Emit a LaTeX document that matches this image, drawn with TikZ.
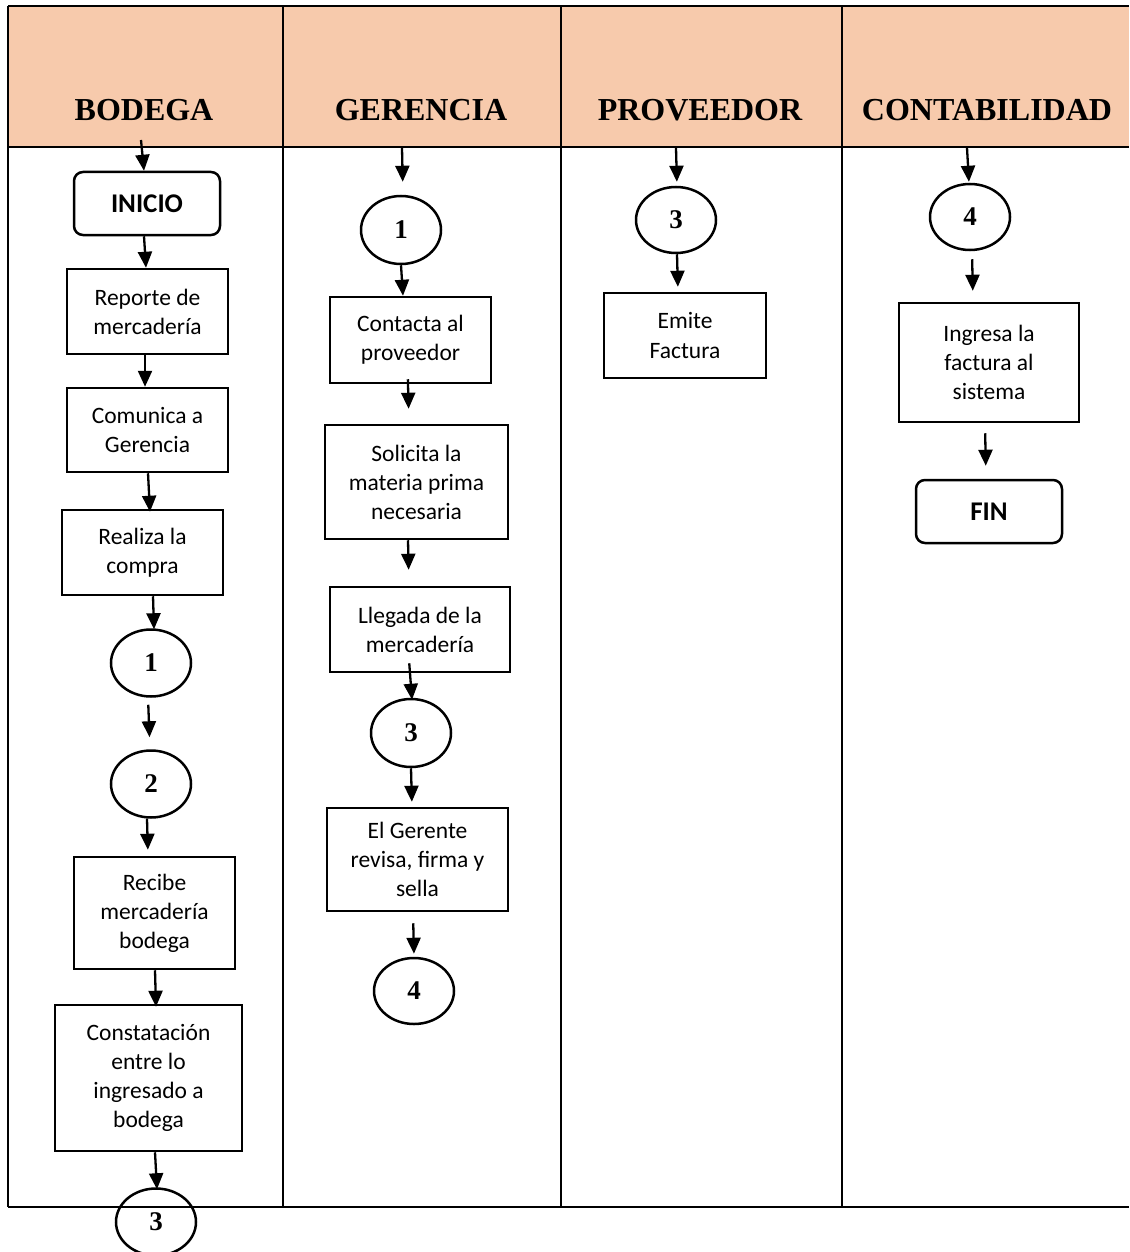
\documentclass[tikz,border=0pt]{standalone}
\usepackage{fontspec}
\setmainfont{Carlito}
\newfontfamily\hdfont{Liberation Serif}
\usetikzlibrary{arrows.meta,shapes.geometric}
\definecolor{peach}{RGB}{247,202,172}
\tikzset{
  box/.style={draw, line width=2.5pt, align=center, inner sep=2pt, font=\fontsize{23.5}{29}\selectfont},
  term/.style={draw, line width=2.5pt, rounded corners=9pt, font=\fontsize{27}{30}\selectfont\bfseries},
  conn/.style={draw, line width=2.5pt, ellipse, inner sep=0pt, font=\hdfont\fontsize{27}{30}\selectfont\bfseries},
  arr/.style={line width=2.3pt, -{Triangle[width=14pt,length=16pt]}},
  hd/.style={font=\hdfont\fontsize{32}{34}\selectfont\bfseries},
  grid/.style={line width=2.5pt}
}
\begin{document}
\begin{tikzpicture}[x=1pt,y=-1pt]
\useasboundingbox (0,0) rectangle (1129,1252);
\clip (0,0) rectangle (1129,1252);
% header band
\fill[peach] (8,6) rectangle (1129,147);
\draw[grid] (8,6) -- (1129,6);
\draw[grid] (8,147) -- (1129,147);
\draw[grid] (8,1207) -- (1129,1207);
\draw[grid] (8,6) -- (8,1207);
\draw[grid] (283,6) -- (283,1207);
\draw[grid] (561,6) -- (561,1207);
\draw[grid] (842,6) -- (842,1207);
\node[hd] (hb) at (144,110) {BODEGA};
\node[hd] (hg) at (421,110) {GERENCIA};
\node[hd] (hp) at (700,110) {PROVEEDOR};
\node[hd] (hc) at (987,110) {CONTABILIDAD};
% entry coordinates
\coordinate (eb) at (141,140);
\coordinate (eg) at (402,148);
\coordinate (ep) at (676,148);
\coordinate (ec) at (967,148);
% BODEGA
\node[term, minimum width=146pt, minimum height=63pt] (inicio) at (147,203.5) {INICIO};
\node[box, minimum width=161pt, minimum height=85pt] (rep) at (147.5,311.5) {Reporte de\\mercadería};
\node[box, minimum width=161pt, minimum height=84pt] (com) at (147.5,430) {Comunica a\\Gerencia};
\node[box, minimum width=161pt, minimum height=85pt] (rea) at (142.5,552.5) {Realiza la\\compra};
\node[conn, minimum width=80pt, minimum height=67pt] (b1) at (151,663) {1};
\node[conn, minimum width=80pt, minimum height=67pt] (b2) at (151,784) {2};
\node[box, minimum width=161pt, minimum height=112pt] (rec) at (154.5,913) {Recibe\\mercadería\\bodega};
\node[box, minimum width=187pt, minimum height=146pt] (cons) at (148.5,1078) {Constatación\\entre lo\\ingresado a\\bodega};
\node[conn, minimum width=80pt, minimum height=67pt] (b3) at (156,1222) {3};
\draw[arr] (eb) -- (144,0 |- inicio.north);
\draw[arr] (144,0 |- inicio.south) -- (146,0 |- rep.north);
\draw[arr] (145,0 |- rep.south) -- (145,0 |- com.north);
\draw[arr] (148,0 |- com.south) -- ([yshift=-3pt]150,0 |- rea.north);
\draw[arr] (153,0 |- rea.south) -- ([yshift=-1pt]154,0 |- b1.north);
\draw[arr, shorten <=7pt, shorten >=12pt] (148,0 |- b1.south) -- (150,0 |- b2.north);
\draw[arr, shorten >=6pt] (147,0 |- b2.south) -- (148,0 |- rec.north);
\draw[arr] (155,0 |- rec.south) -- ([yshift=-3pt]156,0 |- cons.north);
\draw[arr] (155,0 |- cons.south) -- ([yshift=-2pt]157,0 |- b3.north);
% GERENCIA
\node[conn, minimum width=80pt, minimum height=68pt] (g1) at (401,230) {1};
\node[box, minimum width=161pt, minimum height=86pt] (cont) at (410.5,340) {Contacta al\\proveedor};
\node[box, minimum width=183pt, minimum height=114pt] (sol) at (416.5,482) {Solicita la\\materia prima\\necesaria};
\node[box, minimum width=180pt, minimum height=85pt] (lle) at (420,629.5) {Llegada de la\\mercadería};
\node[conn, minimum width=80pt, minimum height=68pt] (g3) at (411,733) {3};
\node[box, minimum width=181pt, minimum height=103pt] (ger) at (417.5,859.5) {El Gerente\\revisa, firma y\\sella};
\node[conn, minimum width=80pt, minimum height=66pt] (g4) at (414,991) {4};
\draw[arr, shorten >=13pt] (eg) -- (403,0 |- g1.north);
\draw[arr] (401,0 |- g1.south) -- (403,0 |- cont.north);
\draw[arr, shorten <=-5pt, shorten >=15pt] (408,0 |- cont.south) -- (409,0 |- sol.north);
\draw[arr, shorten >=16pt] (408,0 |- sol.south) -- (409,0 |- lle.north);
\draw[arr, shorten <=-10pt] (410,0 |- lle.south) -- ([yshift=-2pt]412,0 |- g3.north);
\draw[arr, shorten >=5pt] (411,0 |- g3.south) -- (412,0 |- ger.north);
\draw[arr, shorten <=11pt, shorten >=3pt] (413,0 |- ger.south) -- (414,0 |- g4.north);
% PROVEEDOR
\node[conn, minimum width=80pt, minimum height=66pt] (p3) at (676,220) {3};
\node[box, minimum width=162pt, minimum height=85pt] (emi) at (685,335.5) {Emite\\Factura};
\draw[arr, shorten >=4pt] (ep) -- (677,0 |- p3.north);
\draw[arr, shorten >=5pt] (677,0 |- p3.south) -- (678,0 |- emi.north);
% CONTABILIDAD
\node[conn, minimum width=80pt, minimum height=66pt] (c4) at (970,217) {4};
\node[box, minimum width=180pt, minimum height=119pt] (ing) at (989,362.5) {Ingresa la\\factura al\\sistema};
\node[term, minimum width=146pt, minimum height=63pt] (fin) at (989,511.5) {FIN};
\draw[arr, shorten >=1pt] (ec) -- (969,0 |- c4.north);
\draw[arr, shorten <=8pt, shorten >=11pt] (972,0 |- c4.south) -- (973,0 |- ing.north);
\draw[arr, shorten <=10pt, shorten >=13pt] (985,0 |- ing.south) -- (986,0 |- fin.north);
\end{tikzpicture}
\end{document}
